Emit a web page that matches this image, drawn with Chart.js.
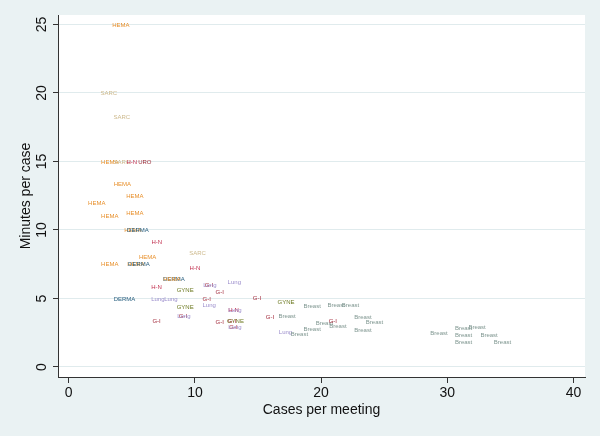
<!DOCTYPE html>
<html><head><meta charset="utf-8">
<script src="https://cdn.jsdelivr.net/npm/chart.js@4.4.1/dist/chart.umd.min.js"></script>
<style>html,body{margin:0;padding:0;background:#eaf2f3;overflow:hidden}canvas{display:block}</style>
</head><body>
<canvas id="c" width="600" height="436"></canvas>
<script>
const departments = ['HEMA','SARC','SARC','HEMA','SARC','H-N','URO','HEMA','HEMA','HEMA','HEMA','HEMA','HEMA','DERMA','H-N','SARC','HEMA','HEMA','HEMA','DERMA','H-N','DERMA','HEMA','Lung','H-N','GYNE','G-I','Lung','G-I','DERMA','Lung','Lung','G-I','G-I','GYNE','Breast','Breast','Breast','Lung','GYNE','H-N','Lung','G-I','Lung','G-I','Breast','Breast','Breast','G-I','G-I','G-I','GYNE','G-I','Lung','Breast','G-I','Breast','Breast','Lung','Breast','Breast','Breast','Breast','Breast','Breast','Breast','Breast','Breast'];
const casesPerMeeting = [4.13,3.17,4.21,3.25,4.21,5.00,6.03,4.25,5.24,2.22,5.24,3.25,5.08,5.48,6.98,10.21,6.25,3.25,5.32,5.56,10.00,8.33,8.17,13.12,6.96,9.23,11.11,11.19,11.96,4.42,7.06,8.10,10.93,14.92,17.22,19.29,21.19,22.33,11.13,9.23,13.06,13.17,9.05,9.13,15.95,17.30,23.31,24.23,6.96,11.96,12.94,13.21,13.06,13.17,20.26,20.93,21.33,19.29,17.18,18.28,23.31,29.34,31.29,32.36,31.29,33.31,31.29,34.37];
const minutesPerCase = [24.93,19.97,18.22,14.94,14.94,14.94,14.94,13.34,12.46,11.95,11.22,10.97,9.99,9.99,9.13,8.29,8.00,7.46,7.46,7.46,7.18,6.41,6.41,6.17,5.83,5.59,5.98,5.98,5.42,4.96,4.96,4.96,4.96,4.98,4.72,4.42,4.50,4.50,4.47,4.35,4.13,4.13,3.72,3.72,3.62,3.72,3.62,3.23,3.30,3.23,3.30,3.30,2.88,2.88,3.16,3.30,2.97,2.77,2.50,2.35,2.70,2.48,2.82,2.89,2.33,2.33,1.80,1.80];
const xTickValues = [0,10,20,30,40];
const yTickValues = [0,5,10,15,20,25];
const deptColors = {'HEMA':'#e8902c','SARC':'#cdb98c','H-N':'#c2304f','URO':'#9a2a36','DERMA':'#2a6080','Lung':'#9a8ccb','G-I':'#a32b3c','GYNE':'#6d7a22','Breast':'#7f9690'};
const FONT = '"Liberation Sans", Arial, Helvetica, sans-serif';

const bgPlugin = {
  id: 'bg',
  beforeDraw(chart) {
    const {ctx, chartArea: a} = chart;
    ctx.save();
    ctx.fillStyle = '#eaf2f3';
    ctx.fillRect(0, 0, chart.width, chart.height);
    ctx.fillStyle = '#ffffff';
    ctx.fillRect(a.left, a.top, a.right - a.left, a.bottom - a.top);
    ctx.restore();
  }
};
const labelPlugin = {
  id: 'mlabels',
  afterDatasetsDraw(chart) {
    const ctx = chart.ctx;
    const meta = chart.getDatasetMeta(0);
    ctx.save();
    ctx.font = '6px ' + FONT;
    ctx.textAlign = 'center';
    ctx.textBaseline = 'middle';
    meta.data.forEach((el, i) => {
      const d = departments[i];
      ctx.fillStyle = deptColors[d];
      ctx.fillText(d, el.x, el.y);
    });
    ctx.restore();
  }
};

new Chart(document.getElementById('c'), {
  type: 'scatter',
  data: {
    datasets: [{
      data: casesPerMeeting.map((x, i) => ({x: x, y: minutesPerCase[i]})),
      pointRadius: 0, pointHoverRadius: 0
    }]
  },
  options: {
    responsive: false, animation: false, devicePixelRatio: 1,
    layout: {padding: {top: 15, right: 15, bottom: 0, left: 0}},
    plugins: {legend: {display: false}, tooltip: {enabled: false}},
    scales: {
      x: {
        type: 'linear', position: 'bottom', min: -0.85, max: 40.91,
        afterBuildTicks: s => { s.ticks = xTickValues.map(v => ({value: v})); },
        afterFit: s => { s.height = 59; },
        grid: {drawOnChartArea: false, tickLength: 6, tickColor: '#333', color: '#333'},
        border: {color: '#333', width: 1},
        ticks: {font: {size: 14, family: FONT}, color: '#111', padding: 2, maxRotation: 0},
        title: {display: true, text: 'Cases per meeting', font: {size: 14, family: FONT}, color: '#111', padding: {top: 0, bottom: 17.6}}
      },
      y: {
        type: 'linear', min: -0.73, max: 25.69,
        afterBuildTicks: s => { s.ticks = yTickValues.map(v => ({value: v})); },
        afterFit: s => { s.width = 58; },
        grid: {color: '#e0ebed', tickLength: 5, tickColor: '#333'},
        border: {color: '#333', width: 1},
        ticks: {font: {size: 14, family: FONT}, color: '#111', padding: 3, minRotation: 90, maxRotation: 90, crossAlign: 'center'},
        title: {display: true, text: 'Minutes per case', font: {size: 14, family: FONT}, color: '#111', padding: {top: 17.6, bottom: 0}}
      }
    }
  },
  plugins: [bgPlugin, labelPlugin]
});
</script>
</body></html>
